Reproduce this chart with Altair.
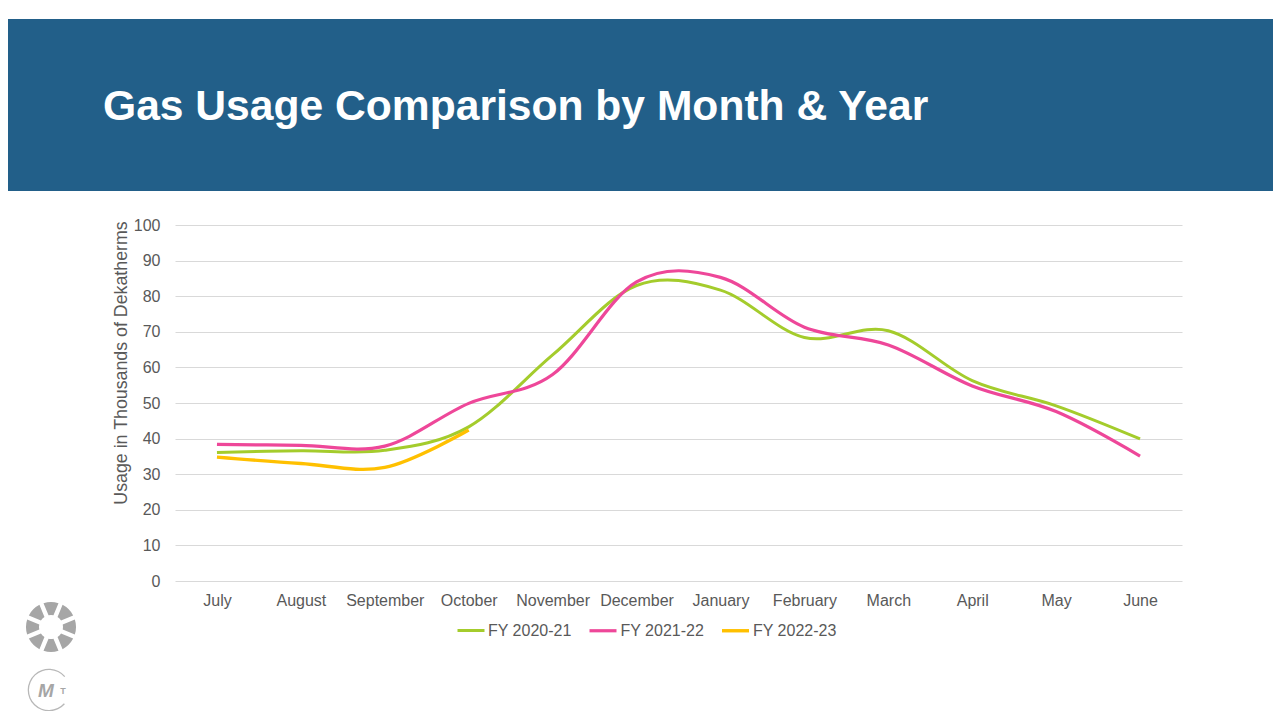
import altair as alt
import pandas as pd

# ---------------- data ----------------
months = ["July", "August", "September", "October", "November", "December",
          "January", "February", "March", "April", "May", "June"]
fy_2020_21 = [36.1, 36.6, 36.7, 43.3, 63.5, 83.0, 81.7, 68.4, 70.3, 56.3, 49.2, 39.9]
fy_2021_22 = [38.4, 38.1, 37.9, 49.9, 58.0, 84.0, 85.3, 71.3, 66.3, 54.8, 47.6, 35.1]
fy_2022_23 = [34.8, 33.0, 31.9, 42.4]
series_names = ["FY 2020-21", "FY 2021-22", "FY 2022-23"]
series_colors = ["#A4CC2C", "#EE4799", "#FFC000"]
series_widths = [3.0, 3.4, 4.8]
y_ticks = [0, 10, 20, 30, 40, 50, 60, 70, 80, 90, 100]
title_text = ["Gas Usage Comparison by Month & Year"]
y_title = "Usage in Thousands of Dekatherms"
gear_segments = [1, 1, 1, 1, 1, 1, 1, 1]
logo_letters = ["M", "T"]

rows = []
for name, vals in zip(series_names, [fy_2020_21, fy_2021_22, fy_2022_23]):
    for m, v in zip(months, vals):
        rows.append({"month": m, "value": v, "series": name})
df = pd.DataFrame(rows)

FONT = "Liberation Sans"
GRAY = "#595959"
BLUE = "#225F89"
LOGO_GRAY = "#A6A6A6"

# ---------------- main lines ----------------
lines = alt.Chart(df).mark_line(interpolate="cardinal").encode(
    x=alt.X("month:N", sort=months,
            scale=alt.Scale(type="point", domain=months, padding=0.5),
            axis=alt.Axis(title=None, labelAngle=0, labelFontSize=16, labelColor=GRAY,
                          labelFont=FONT, ticks=False, domain=False, grid=False,
                          labelPadding=11)),
    y=alt.Y("value:Q", scale=alt.Scale(domain=[0, 100], nice=False),
            axis=alt.Axis(values=y_ticks, title=y_title, titleFont=FONT, titleFontSize=17.8,
                          titleFontWeight="normal", titleColor=GRAY, titleAngle=270,
                          titleX=-49, titleY=137.5, titleAlign="center",
                          titleBaseline="alphabetic",
                          labelFont=FONT, labelFontSize=16, labelColor=GRAY, labelPadding=15,
                          ticks=False, domain=False, grid=True, gridColor="#D9D9D9",
                          gridWidth=1)),
    color=alt.Color("series:N",
                    scale=alt.Scale(domain=series_names, range=series_colors),
                    legend=alt.Legend(orient="none", legendX=281, legendY=390,
                                      direction="horizontal", title=None,
                                      symbolType="stroke", symbolSize=729,
                                      symbolStrokeWidth=3.5, labelFont=FONT,
                                      labelFontSize=16, labelColor=GRAY,
                                      labelOffset=2, columnPadding=10.5)),
    strokeWidth=alt.StrokeWidth("series:N",
                                scale=alt.Scale(domain=series_names, range=series_widths),
                                legend=None),
)

# ---------------- header band + title ----------------
header_df = pd.DataFrame({"title": title_text})
band = alt.Chart(header_df).mark_rect(color=BLUE).encode(
    x=alt.value(-167), x2=alt.value(1098), y=alt.value(-206), y2=alt.value(-34)
)
title = alt.Chart(header_df).mark_text(
    align="left", baseline="alphabetic", font=FONT, fontSize=42.6,
    fontWeight="bold", color="white"
).encode(x=alt.value(-72), y=alt.value(-105), text="title:N")

# ---------------- logos ----------------
gear_df = pd.DataFrame({"seg": list(range(len(gear_segments))), "v": gear_segments})
gear = alt.Chart(gear_df).mark_arc(
    innerRadius=12, outerRadius=25, padAngle=0.16, color=LOGO_GRAY
).encode(
    theta=alt.Theta("v:Q", stack=True, scale=alt.Scale(range=[5.8905, 12.1737])),
    detail="seg:N",
    order="seg:O",
    x=alt.value(-124), y=alt.value(402),
)

ring = alt.Chart(header_df).mark_arc(
    innerRadius=20, outerRadius=21.3, theta=2.3, theta2=7.15, color="#B8B8B8"
).encode(x=alt.value(-126), y=alt.value(465))

m_df = pd.DataFrame({"t": [logo_letters[0]]})
t_df = pd.DataFrame({"t": [logo_letters[1]]})
m_text = alt.Chart(m_df).mark_text(
    font=FONT, fontSize=19, fontWeight="bold", fontStyle="italic",
    color=LOGO_GRAY, align="center", baseline="middle"
).encode(x=alt.value(-129), y=alt.value(466), text="t:N")
t_text = alt.Chart(t_df).mark_text(
    font=FONT, fontSize=9, fontWeight="bold", color=LOGO_GRAY,
    align="center", baseline="middle"
).encode(x=alt.value(-112), y=alt.value(466), text="t:N")

chart = alt.layer(band, title, lines, gear, ring, m_text, t_text).properties(
    width=1007, height=356,
    autosize=alt.AutoSizeParams(type="none"),
    padding={"left": 167, "top": 217, "right": 91, "bottom": 130},
    background="white",
).configure_view(stroke=None)

chart.save("out.html", embed_options={"renderer": "svg", "actions": False})
